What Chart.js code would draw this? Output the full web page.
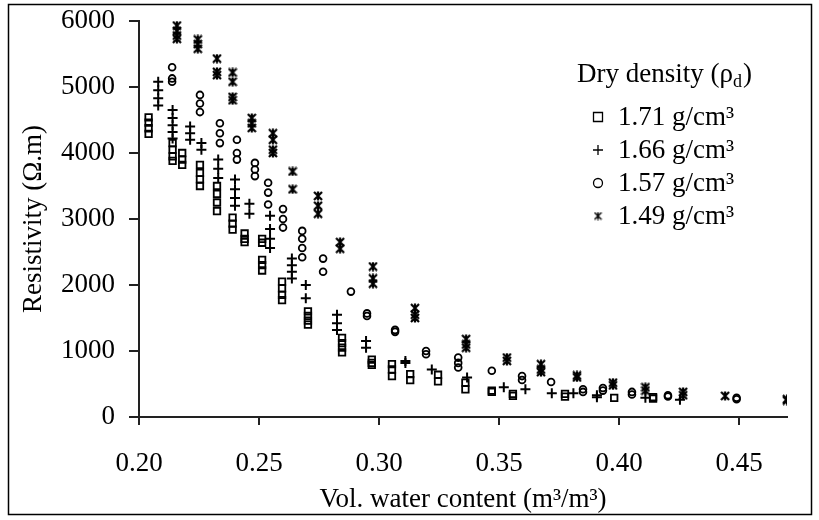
<!DOCTYPE html>
<html>
<head>
<meta charset="utf-8">
<script src="https://cdn.jsdelivr.net/npm/chart.js@4.4.1/dist/chart.umd.min.js"></script>
<style>
html,body{margin:0;padding:0;background:#fff;}
#wrap{width:819px;height:520px;position:relative;}
</style>
</head>
<body>
<div id="wrap"><canvas id="c" width="819" height="520"></canvas></div>
<script>
// ---- data ----
const xTickLabels = ['0.20','0.25','0.30','0.35','0.40','0.45'];
const yTickLabels = ['0','1000','2000','3000','4000','5000','6000'];
const seriesNames = ['1.71 g/cm³','1.66 g/cm³','1.57 g/cm³','1.49 g/cm³'];

const d171X = [0.204,0.204,0.204,0.204, 0.214,0.214,0.214,0.214, 0.218,0.218,0.218,
  0.2254,0.2254,0.2254,0.2254, 0.2325,0.2325,0.2325,0.2325, 0.239,0.239,0.239,
  0.244,0.244,0.244, 0.2513,0.2513,0.2513,0.2513,0.2513, 0.2596,0.2596,0.2596,0.2596,
  0.2704,0.2704,0.2704,0.2704, 0.2846,0.2846,0.2846,0.2846, 0.297,0.297,0.297,
  0.3054,0.3054,0.3054, 0.313,0.313, 0.3246,0.3246, 0.336,0.336, 0.347,0.347,
  0.3558,0.3558, 0.3775,0.3775, 0.398, 0.4142,0.4142];
const d171Y = [4540,4460,4375,4290, 4150,4050,3950,3880, 4000,3900,3820,
  3820,3700,3600,3500, 3500,3380,3250,3120, 3020,2930,2840,
  2780,2700,2650, 2700,2640,2380,2300,2220, 2050,1950,1850,1770,
  1600,1530,1460,1400, 1200,1120,1050,980, 870,820,790,
  800,720,620, 650,560, 640,540, 520,420, 400,380,
  350,320, 350,310, 290, 300,280];

const d166X = [0.208,0.208,0.208,0.208, 0.214,0.214,0.214,0.214,0.214, 0.2213,0.2213,0.2213,
  0.226,0.226, 0.233,0.233,0.233, 0.240,0.240,0.240,0.240, 0.246,0.246,
  0.2546,0.2546,0.2546,0.2546, 0.2637,0.2637,0.2637,0.2637, 0.2695,0.2695,
  0.2825,0.2825,0.2825, 0.2946,0.2946, 0.311,0.311, 0.322, 0.3367, 0.352, 0.361,
  0.372, 0.381, 0.3908,0.3908, 0.411, 0.4254];
const d166Y = [5080,4950,4830,4720, 4650,4530,4420,4320,4220, 4400,4300,4200,
  4150,4050, 3900,3760,3620, 3600,3450,3320,3200, 3230,3080,
  3050,2850,2700,2560, 2400,2300,2200,2100, 2000,1800,
  1550,1420,1320, 1150,1050, 850,820, 720, 600, 450, 420,
  360, 360, 330,300, 290, 260];

const d157X = [0.2138,0.2138,0.2138, 0.2254,0.2254,0.2254, 0.2337,0.2337,0.2337,
  0.2408,0.2408,0.2408, 0.2483,0.2483,0.2483, 0.2538,0.2538,0.2538, 0.26,0.26,0.26,
  0.268,0.268,0.268,0.268, 0.2767,0.2767, 0.2883, 0.295,0.295, 0.3067,0.3067,
  0.3196,0.3196, 0.333,0.333,0.333, 0.347, 0.3596,0.3596, 0.3717, 0.385,0.385,
  0.3933,0.3933, 0.4054,0.4054, 0.4204,0.4204, 0.449,0.449];
const d157Y = [5300,5130,5080, 4880,4750,4620, 4450,4300,4150,
  4200,4000,3900, 3850,3750,3650, 3550,3400,3220, 3150,3000,2870,
  2820,2700,2560,2420, 2400,2200, 1900, 1570,1530, 1320,1290,
  1000,950, 900,820,750, 700, 620,560, 530, 420,380,
  440,400, 380,340, 330,310, 290,270];

const d149X = [0.2158,0.2158,0.2158,0.2158, 0.2245,0.2245,0.2245, 0.2325,0.2325,0.2325,
  0.239,0.239,0.239,0.239, 0.247,0.247,0.247, 0.2558,0.2558,0.2558,0.2558,
  0.264,0.264, 0.2746,0.2746,0.2746, 0.2838,0.2838, 0.2975,0.2975,0.2975,
  0.315,0.315,0.315, 0.3363,0.3363,0.3363, 0.3533,0.3533, 0.3675,0.3675,0.3675,
  0.3825,0.3825, 0.3975,0.3975, 0.411,0.411, 0.4267,0.4267, 0.4442, 0.47,0.47];
const d149Y = [5930,5850,5780,5730, 5720,5650,5580, 5430,5230,5180,
  5220,5080,4850,4800, 4530,4450,4380, 4300,4200,4050,4000,
  3720,3450, 3350,3200,3080, 2650,2550, 2280,2100,2020,
  1650,1550,1500, 1180,1100,1050, 900,850, 800,720,680,
  630,600, 520,480, 450,400, 380,330, 320, 270,250];

// ---- helpers ----
function pts(xs, ys){ return xs.map((x,i)=>({x:x, y:ys[i]})); }
function makeStar(s, lw){
  const c = document.createElement('canvas'); c.width = s; c.height = s;
  const g = c.getContext('2d');
  g.strokeStyle = '#000'; g.lineWidth = lw; g.lineCap = 'butt';
  g.beginPath();
  g.moveTo(1,1); g.lineTo(s-1,s-1);
  g.moveTo(s-1,1); g.lineTo(1,s-1);
  g.moveTo(s/2,0.5); g.lineTo(s/2,s-0.5);
  g.stroke();
  return c;
}
const starImg = makeStar(10, 2.2);
const starLegend = makeStar(9, 1.4);
const FONT = 'Liberation Serif, Times New Roman, serif';

const frameLegend = {
  id: 'frameLegend',
  afterDraw(chart){
    const ctx = chart.ctx;
    ctx.save();
    ctx.strokeStyle = '#000'; ctx.lineWidth = 1.5;
    ctx.strokeRect(8.5, 4.5, 803, 510);
    // legend
    ctx.fillStyle = '#000';
    ctx.textBaseline = 'alphabetic';
    ctx.font = '27px ' + FONT;
    const tx = 577, ty = 82;
    const t1 = 'Dry density (ρ';
    ctx.fillText(t1, tx, ty);
    let w = ctx.measureText(t1).width;
    ctx.font = '18px ' + FONT;
    ctx.fillText('d', tx + w, ty + 5);
    const wd = ctx.measureText('d').width;
    ctx.font = '27px ' + FONT;
    ctx.fillText(')', tx + w + wd + 1, ty);
    const rows = [125, 158, 191, 224];
    const mx = 598, textX = 618;
    ctx.lineWidth = 1.3; ctx.strokeStyle = '#000';
    rows.forEach((ry, i) => {
      const cy = ry - 8;
      ctx.beginPath();
      if (i === 0) { ctx.rect(mx-4.5, cy-4.5, 9, 9); ctx.stroke(); }
      else if (i === 1) { ctx.moveTo(mx-5, cy); ctx.lineTo(mx+5, cy); ctx.moveTo(mx, cy-5); ctx.lineTo(mx, cy+5); ctx.stroke(); }
      else if (i === 2) { ctx.arc(mx, cy, 4.5, 0, Math.PI*2); ctx.stroke(); }
      else { ctx.drawImage(starLegend, mx-4.5, cy-4.5); }
      ctx.font = '27px ' + FONT;
      ctx.fillText(seriesNames[i], textX, ry);
    });
    ctx.restore();
  }
};

const ds = (label, data, style, r, bw) => ({
  label, data, pointStyle: style, pointRadius: r, pointHoverRadius: r,
  borderColor: '#000', backgroundColor: 'rgba(0,0,0,0)', borderWidth: bw, showLine: false
});

new Chart(document.getElementById('c'), {
  type: 'scatter',
  data: {
    datasets: [
      ds(seriesNames[0], pts(d171X, d171Y), 'rect', 4.6, 1.8),
      ds(seriesNames[1], pts(d166X, d166Y), 'cross', 5, 2),
      ds(seriesNames[2], pts(d157X, d157Y), 'circle', 3.4, 1.8),
      ds(seriesNames[3], pts(d149X, d149Y), starImg, 5, 1)
    ]
  },
  options: {
    responsive: false, animation: false, devicePixelRatio: 1,
    layout: { padding: { left: 0, top: 21, right: 32, bottom: 0 } },
    plugins: { legend: { display: false }, tooltip: { enabled: false } },
    scales: {
      x: {
        type: 'linear', min: 0.20, max: 0.47,
        afterFit(s){ s.height = 103; s.paddingLeft = 0; s.paddingRight = 0; },
        ticks: {
          stepSize: 0.05, includeBounds: false, padding: 23, color: '#000',
          font: { family: FONT, size: 27 },
          callback(v){ const i = Math.round((v - 0.20)/0.05); return (Math.abs(v - (0.20+i*0.05))<1e-6) ? xTickLabels[i] : ''; }
        },
        grid: { drawOnChartArea: false, drawTicks: true, tickLength: 8, color: '#222', lineWidth: 2 },
        border: { display: true, color: '#222', width: 2 },
        title: { display: true, text: 'Vol. water content (m³/m³)', color: '#000',
          font: { family: FONT, size: 27 }, padding: { top: 0, bottom: 4 } }
      },
      y: {
        type: 'linear', min: 0, max: 6000,
        afterFit(s){ s.width = 139; s.paddingTop = 0; s.paddingBottom = 0; },
        ticks: {
          stepSize: 1000, padding: 14, color: '#000',
          font: { family: FONT, size: 27 },
          callback(v){ return yTickLabels[Math.round(v/1000)]; }
        },
        grid: { drawOnChartArea: false, drawTicks: true, tickLength: 10, color: '#222', lineWidth: 2 },
        border: { display: true, color: '#222', width: 2 },
        title: { display: true, text: 'Resistivity (Ω.m)', color: '#000',
          font: { family: FONT, size: 27 }, padding: { top: 18, bottom: 0 } }
      }
    }
  },
  plugins: [frameLegend]
});
</script>
</body>
</html>
